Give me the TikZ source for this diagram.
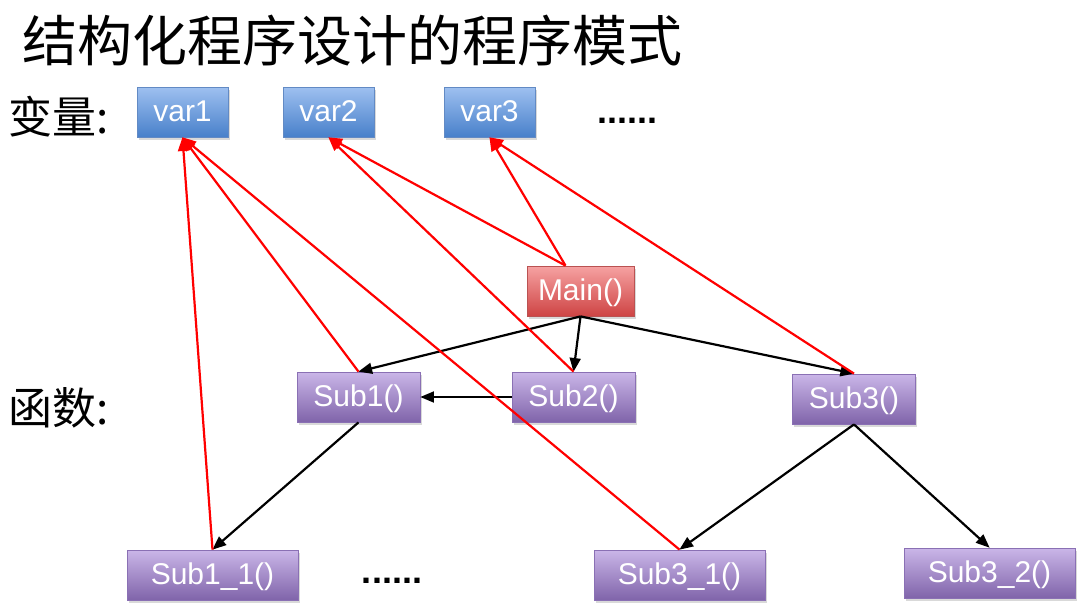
\documentclass[tikz,border=0pt]{standalone}
\usepackage{fontspec}
\setmainfont{Liberation Sans}
\newfontfamily\cjk{Noto Sans CJK SC}
\usepackage{tikz}
\usetikzlibrary{arrows,shadows,calc}
\definecolor{vartop}{RGB}{158,192,240}
\definecolor{varbot}{RGB}{72,128,202}
\definecolor{varline}{RGB}{98,138,196}
\definecolor{maintop}{RGB}{246,162,162}
\definecolor{mainbot}{RGB}{206,68,68}
\definecolor{mainline}{RGB}{186,82,82}
\definecolor{funtop}{RGB}{202,182,232}
\definecolor{funbot}{RGB}{128,100,170}
\definecolor{funline}{RGB}{138,112,180}
\tikzset{ar/.style={-triangle 45,line width=2.2pt,shorten >=0pt, shorten <=0pt}}
\tikzstyle{box}=[draw, line width=0.8pt, inner sep=0pt, minimum height=50pt, text=white,
  text height=19pt, text depth=0pt, font=\fontsize{30}{32}\selectfont,
  drop shadow={shadow xshift=1.5pt,shadow yshift=-2.5pt,opacity=0.3}]
\tikzstyle{var}=[box, minimum width=91pt, draw=varline, top color=vartop, bottom color=varbot]
\tikzstyle{mainbox}=[box, minimum width=107pt, draw=mainline, top color=maintop, bottom color=mainbot]
\tikzstyle{fun}=[box, minimum width=123pt, draw=funline, top color=funtop, bottom color=funbot]
\tikzstyle{subfun}=[fun, minimum width=171pt]
\tikzstyle{dots}=[font=\fontsize{36}{38}\selectfont\bfseries, inner sep=0pt]
\tikzstyle{lbl}=[anchor=west, inner sep=0pt, font=\cjk\fontsize{44}{48}\selectfont]

\begin{document}
\begin{tikzpicture}[x=1pt,y=-1pt]
    \useasboundingbox (0,0) rectangle (1092,608);
    \node [anchor=west, inner sep=0pt, font=\cjk\fontsize{55}{60}\selectfont] (title) at (22,41) {结构化程序设计的程序模式};
    \node [lbl] (lbvar) at (8,117) {变量:};
    \node [lbl] (lbfun) at (8,408) {函数:};
    % variables
    \node [var] (var1) at (182.5,112) {var1};
    \node [var, right of=var1, node distance=146pt] (var2) {var2};
    \node [var, right of=var2, node distance=161pt] (var3) {var3};
    \node [dots, right of=var3, node distance=138pt, yshift=-9pt] (vdots) {......};
    % functions
    \node [mainbox] (main) at (580.5,291) {Main()};
    \node [fun] (sub1) at (358.5,397) {Sub1()};
    \node [fun, right of=sub1, node distance=215pt] (sub2) {Sub2()};
    \node [fun] (sub3) at (854,399) {Sub3()};
    \node [subfun] (sub11) at (212.5,575) {Sub1\_1()};
    \node [dots] (fdots) at (392,581) {......};
    \node [subfun, right of=sub11, node distance=467pt] (sub31) {Sub3\_1()};
    \node [subfun] (sub32) at (989.5,573) {Sub3\_2()};
    % calls
    \draw [ar] (main.south) -- (sub1.north);
    \draw [ar] (main.south) -- (sub2.north);
    \draw [ar] (main.south) -- (sub3.north);
    \draw [ar] (sub2.west) -- (sub1.east);
    \draw [ar] (sub1.south) -- (sub11.north);
    \draw [ar] (sub3.south) -- (sub31.north);
    \draw [ar] (sub3.south) -- (sub32.north);
    % variable access
    \draw [ar, red] (sub11.north) -- (var1.south);
    \draw [ar, red] (sub1.north) -- (var1.south);
    \draw [ar, red] (sub31.north) -- (var1.south);
    \draw [ar, red] (sub2.north) -- (var2.south);
    \draw [ar, red] ($(main.north)+(-15,0)$) -- (var2.south);
    \draw [ar, red] ($(main.north)+(-15,0)$) -- (var3.south);
    \draw [ar, red] (sub3.north) -- (var3.south);
\end{tikzpicture}
\end{document}
